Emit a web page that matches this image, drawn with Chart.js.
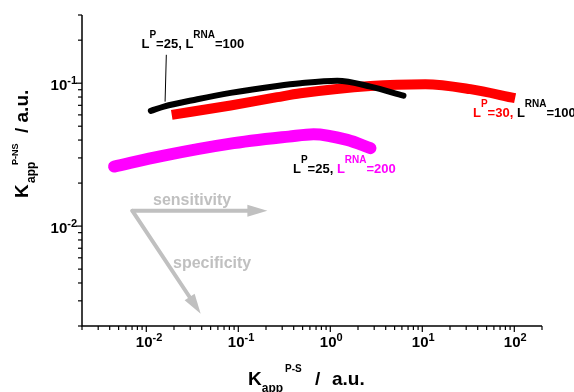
<!DOCTYPE html>
<html>
<head>
<meta charset="utf-8">
<script src="https://cdn.jsdelivr.net/npm/chart.js@4/dist/chart.umd.min.js"></script>
<style>
  html, body { margin: 0; padding: 0; background: #fff; }
  canvas { display: block; }
</style>
</head>
<body>
<canvas id="kappChart" width="574" height="392"></canvas>
<script>
// values (K_app^P-S on x, K_app^P-NS on y)
const blackX = [0.0112, 0.0155, 0.0359, 0.0824, 0.265, 0.474, 1.19, 2.73, 6.24];
const blackY = [0.064, 0.0686, 0.0772, 0.0855, 0.0957, 0.1, 0.104, 0.0947, 0.0818];

const redX = [0.0189, 0.0824, 0.265, 0.474, 2.73, 10.8, 33.3, 102];
const redY = [0.06, 0.0698, 0.0798, 0.085, 0.0957, 0.0984, 0.0908, 0.0785];

const magentaX = [0.00446, 0.015, 0.079, 0.354, 0.658, 1.53, 2.73];
const magentaY = [0.0261, 0.031, 0.0376, 0.0423, 0.044, 0.0401, 0.0351];

const xRange = [0.002, 200];
const yRange = [0.002, 0.3];
const xTickValues = [0.01, 0.1, 1, 10, 100];
const xTickExp = ["-2", "-1", "0", "1", "2"];
const yTickValues = [0.01, 0.1];
const yTickExp = ["-2", "-1"];

// arrow anchors (data coordinates)
const arrowOrigin = [0.00706, 0.0128];
const sensitivityEnd = [0.207, 0.0128];
const specificityEnd = [0.039, 0.00244];
const leaderTop = [0.0165, 0.158];
const leaderBottom = [0.016, 0.0743];

const FONT = '"Liberation Sans", Arial, Helvetica, sans-serif';
const toPoints = (xs, ys) => xs.map((x, i) => ({ x: x, y: ys[i] }));

function drawRich(ctx, x, y, parts) {
    let cx = x;
    parts.forEach(p => {
        ctx.font = "bold " + p.size + "px " + FONT;
        ctx.fillStyle = p.color || "#000";
        const px = p.at !== undefined ? x + p.at : cx;
        ctx.fillText(p.t, px, y + (p.dy || 0));
        cx = px + ctx.measureText(p.t).width;
    });
}

function drawArrow(ctx, x1, y1, x2, y2) {
    const ang = Math.atan2(y2 - y1, x2 - x1);
    const head = 20, half = 6;
    const bx = x2 - head * Math.cos(ang), by = y2 - head * Math.sin(ang);
    ctx.beginPath();
    ctx.moveTo(x1, y1);
    ctx.lineTo(bx, by);
    ctx.stroke();
    ctx.beginPath();
    ctx.moveTo(x2, y2);
    ctx.lineTo(bx + half * Math.sin(ang), by - half * Math.cos(ang));
    ctx.lineTo(bx - half * Math.sin(ang), by + half * Math.cos(ang));
    ctx.closePath();
    ctx.fill();
}

function logTicks(min, max) {
    const out = [];
    for (let e = Math.floor(Math.log10(min)); e <= Math.ceil(Math.log10(max)); e++) {
        for (let m = 1; m <= 9; m++) {
            const v = m * Math.pow(10, e);
            if (v >= min * 0.999 && v <= max * 1.001) out.push({ v: v, major: m === 1 });
        }
    }
    return out;
}

const axesPlugin = {
    id: "axesPlugin",
    afterDraw(chart) {
        const ctx = chart.ctx;
        const xs = chart.scales.x, ys = chart.scales.y;
        const area = chart.chartArea;
        ctx.save();
        ctx.strokeStyle = "#000";
        ctx.fillStyle = "#000";

        // axis lines
        ctx.lineWidth = 1.5;
        ctx.beginPath();
        ctx.moveTo(area.left, area.top);
        ctx.lineTo(area.left, area.bottom);
        ctx.lineTo(area.right, area.bottom);
        ctx.stroke();

        // tick marks
        ctx.lineWidth = 1.2;
        logTicks(xRange[0], xRange[1]).forEach(t => {
            const px = xs.getPixelForValue(t.v);
            ctx.beginPath();
            ctx.moveTo(px, area.bottom);
            ctx.lineTo(px, area.bottom + (t.major ? 6 : 4));
            ctx.stroke();
        });
        logTicks(yRange[0], yRange[1]).forEach(t => {
            const py = ys.getPixelForValue(t.v);
            ctx.beginPath();
            ctx.moveTo(area.left, py);
            ctx.lineTo(area.left - (t.major ? 6 : 4), py);
            ctx.stroke();
        });

        // tick labels
        ctx.textAlign = "left";
        ctx.textBaseline = "alphabetic";
        xTickValues.forEach((v, i) => {
            const px = xs.getPixelForValue(v);
            drawRich(ctx, px - 10.5, area.bottom + 21, [
                { t: "10", size: 15 },
                { t: xTickExp[i], size: 11, dy: -6 }
            ]);
        });
        yTickValues.forEach((v, i) => {
            const py = ys.getPixelForValue(v);
            ctx.font = "bold 15px " + FONT;
            const w1 = ctx.measureText("10").width;
            ctx.font = "bold 11px " + FONT;
            const w2 = ctx.measureText(yTickExp[i]).width;
            drawRich(ctx, area.left - 5 - w1 - w2, py + 6.5, [
                { t: "10", size: 15 },
                { t: yTickExp[i], size: 11, dy: -6 }
            ]);
        });

        // axis titles
        drawRich(ctx, 248, 385, [
            { t: "K", size: 19 },
            { t: "app", size: 12, dy: 7 },
            { t: "P-S", size: 10, dy: -13, at: 37 },
            { t: "/", size: 19, at: 67 },
            { t: "a.u.", size: 19, at: 84 }
        ]);
        ctx.translate(28, 198);
        ctx.rotate(-Math.PI / 2);
        drawRich(ctx, 0, 0, [
            { t: "K", size: 19 },
            { t: "app", size: 12, dy: 7, at: 15 },
            { t: "P-NS", size: 9, dy: -10, at: 33 },
            { t: "/ a.u.", size: 19, at: 65 }
        ]);
        ctx.restore();
    },
    afterDatasetsDraw(chart) {
        const ctx = chart.ctx;
        const xs = chart.scales.x, ys = chart.scales.y;
        const pt = p => [xs.getPixelForValue(p[0]), ys.getPixelForValue(p[1])];
        ctx.save();

        // sensitivity / specificity arrows
        ctx.strokeStyle = "#c0c0c0";
        ctx.fillStyle = "#c0c0c0";
        ctx.lineWidth = 4;
        ctx.lineCap = "round";
        const o = pt(arrowOrigin), s = pt(sensitivityEnd), sp = pt(specificityEnd);
        drawArrow(ctx, o[0], o[1], s[0], s[1]);
        drawArrow(ctx, o[0], o[1], sp[0], sp[1]);
        ctx.font = "bold 16px " + FONT;
        ctx.fillText("sensitivity", 153, 205);
        ctx.fillText("specificity", 173, 268);

        // leader line for the black curve
        const a = pt(leaderTop), b = pt(leaderBottom);
        ctx.strokeStyle = "#000";
        ctx.lineWidth = 1;
        ctx.lineCap = "butt";
        ctx.beginPath();
        ctx.moveTo(a[0], a[1]);
        ctx.lineTo(b[0], b[1]);
        ctx.stroke();

        // curve labels
        drawRich(ctx, 141.5, 48, [
            { t: "L", size: 13 },
            { t: "P", size: 10, dy: -10 },
            { t: "=25, L", size: 13 },
            { t: "RNA", size: 10, dy: -10 },
            { t: "=100", size: 13 }
        ]);
        drawRich(ctx, 473, 117, [
            { t: "L", size: 13, color: "#ff0000" },
            { t: "P", size: 10, dy: -10, color: "#ff0000" },
            { t: "=30, ", size: 13, color: "#ff0000" },
            { t: "L", size: 13 },
            { t: "RNA", size: 10, dy: -10 },
            { t: "=100", size: 13 }
        ]);
        drawRich(ctx, 293, 173, [
            { t: "L", size: 13 },
            { t: "P", size: 10, dy: -10 },
            { t: "=25, ", size: 13 },
            { t: "L", size: 13, color: "#ff00ff" },
            { t: "RNA", size: 10, dy: -10, color: "#ff00ff" },
            { t: "=200", size: 13, color: "#ff00ff" }
        ]);
        ctx.restore();
    }
};

const ctxKapp = document.getElementById("kappChart").getContext("2d");
new Chart(ctxKapp, {
    type: "line",
    data: {
        datasets: [{
            label: "LP=25, LRNA=100",
            data: toPoints(blackX, blackY),
            borderColor: "#000000",
            borderWidth: 6,
            borderCapStyle: "round",
            borderJoinStyle: "round",
            cubicInterpolationMode: "monotone",
            pointRadius: 0,
            fill: false
        }, {
            label: "LP=30, LRNA=100",
            data: toPoints(redX, redY),
            borderColor: "#ff0000",
            borderWidth: 10,
            borderCapStyle: "butt",
            cubicInterpolationMode: "monotone",
            pointRadius: 0,
            fill: false
        }, {
            label: "LP=25, LRNA=200",
            data: toPoints(magentaX, magentaY),
            borderColor: "#ff00ff",
            borderWidth: 12,
            borderCapStyle: "round",
            borderJoinStyle: "round",
            cubicInterpolationMode: "monotone",
            pointRadius: 0,
            fill: false
        }]
    },
    options: {
        responsive: false,
        animation: false,
        layout: { padding: { left: 82, right: 32, top: 15, bottom: 66 } },
        plugins: { legend: { display: false }, tooltip: { enabled: false } },
        scales: {
            x: { type: "logarithmic", min: xRange[0], max: xRange[1], display: false },
            y: { type: "logarithmic", min: yRange[0], max: yRange[1], display: false }
        }
    },
    plugins: [axesPlugin]
});
</script>
</body>
</html>
